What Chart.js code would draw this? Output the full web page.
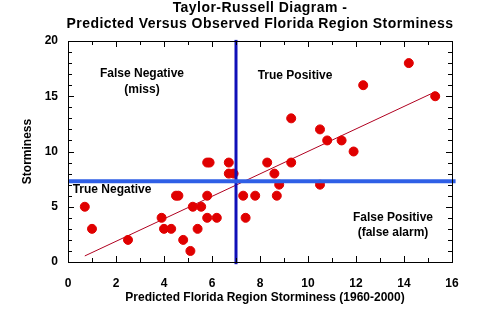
<!DOCTYPE html>
<html>
<head>
<meta charset="utf-8">
<script src="https://cdn.jsdelivr.net/npm/chart.js@4.4.1/dist/chart.umd.min.js"></script>
<style>
  html, body { margin: 0; padding: 0; background: #fff; }
  #wrap { width: 493px; height: 325px; }
</style>
</head>
<body>
<div id="wrap"><canvas id="grafico" width="493" height="325"></canvas></div>
<script>
// Valores
const previsto = [0.7, 1.0, 2.5, 3.9, 4.0, 4.3, 4.5, 4.6, 4.8, 5.1, 5.2, 5.55, 5.4, 5.8, 5.8, 6.2, 5.8, 5.9, 6.7, 6.7, 6.9, 7.3, 7.4, 7.8, 8.3, 8.6, 8.8, 8.7, 9.3, 9.3, 10.5, 10.5, 10.8, 11.4, 11.9, 12.3, 14.2, 15.3];
const observado = [5, 3, 2, 4, 3, 3, 6, 6, 2, 1, 5, 5, 3, 6, 4, 4, 9, 9, 9, 8, 8, 6, 4, 6, 9, 8, 7, 6, 13, 9, 12, 7, 11, 11, 10, 16, 18, 15];
const regressao = [[0.7, 0.55], [15.3, 15.4]];
const limiarPrevisto = 7.0;
const limiarObservado = 7.3;
const ticksX = [0, 2, 4, 6, 8, 10, 12, 14, 16];
const ticksY = [0, 5, 10, 15, 20];

const fonte = '"Liberation Sans", Arial, sans-serif';

const pontos = previsto.map((x, i) => ({ x: x, y: observado[i] }));

// Título, rótulos dos quadrantes, moldura e marcas internas
const extras = {
  id: "extras",
  afterDraw(chart) {
    const ctx = chart.ctx;
    const a = chart.chartArea;
    const sx = chart.scales.x;
    const sy = chart.scales.y;
    ctx.save();
    ctx.fillStyle = "#000";
    ctx.textAlign = "center";
    ctx.textBaseline = "middle";
    const cx = (a.left + a.right) / 2;
    ctx.font = "bold 14px " + fonte;
    ctx.letterSpacing = "0.45px";
    ctx.fillText("Taylor-Russell Diagram -", cx, 8);
    ctx.fillText("Predicted Versus Observed Florida Region Storminess", cx, 24);
    ctx.letterSpacing = "0px";

    ctx.font = "bold 12px " + fonte;
    ctx.fillText("False Negative", 142, 74);
    ctx.fillText("(miss)", 142, 90);
    ctx.fillText("True Positive", 295, 76);
    ctx.fillText("True Negative", 112, 190);
    ctx.fillText("False Positive", 393, 218);
    ctx.fillText("(false alarm)", 393, 233);

    // título do eixo x (um pouco à direita do centro, como no original)
    ctx.fillText("Predicted Florida Region Storminess (1960-2000)", 265, 298);

    // moldura
    ctx.strokeStyle = "#000";
    ctx.lineWidth = 1;
    ctx.strokeRect(a.left + 0.5, a.top + 0.5, a.right - a.left, a.bottom - a.top);

    // marcas internas
    ctx.beginPath();
    for (let v = 0; v <= 16; v++) {
      const px = Math.round(sx.getPixelForValue(v)) + 0.5;
      const len = v % 2 === 0 ? 6 : 4;
      ctx.moveTo(px, a.bottom); ctx.lineTo(px, a.bottom - len);
      ctx.moveTo(px, a.top); ctx.lineTo(px, a.top + len);
    }
    for (let v = 0; v <= 20; v++) {
      const py = Math.round(sy.getPixelForValue(v)) + 0.5;
      const len = v % 5 === 0 ? 6 : 4;
      ctx.moveTo(a.left, py); ctx.lineTo(a.left + len, py);
      ctx.moveTo(a.right, py); ctx.lineTo(a.right - len, py);
    }
    ctx.stroke();
    ctx.restore();
  }
};

const ctx = document.getElementById("grafico").getContext("2d");
new Chart(ctx, {
  type: "scatter",
  data: {
    datasets: [
      {
        data: [{ x: 0, y: limiarObservado }, { x: 16.15, y: limiarObservado }],
        showLine: true,
        borderColor: "#2f5fe6",
        borderWidth: 4,
        pointRadius: 0,
        clip: false,
        order: 1
      },
      {
        data: [{ x: limiarPrevisto, y: -0.2 }, { x: limiarPrevisto, y: 20.1 }],
        showLine: true,
        borderColor: "#1010b8",
        borderWidth: 3,
        pointRadius: 0,
        clip: false,
        order: 1
      },
      {
        data: pontos,
        backgroundColor: "#e00000",
        borderColor: "#e00000",
        borderWidth: 1,
        pointRadius: 4.5,
        order: 2
      },
      {
        data: regressao.map(p => ({ x: p[0], y: p[1] })),
        showLine: true,
        borderColor: "#b00020",
        borderWidth: 1,
        pointRadius: 0,
        order: 3
      }
    ]
  },
  options: {
    responsive: false,
    animation: false,
    layout: { padding: { left: 0, right: 41, top: 41, bottom: 0 } },
    plugins: {
      legend: { display: false },
      tooltip: { enabled: false }
    },
    scales: {
      x: {
        type: "linear",
        min: 0,
        max: 16,
        afterBuildTicks: s => { s.ticks = ticksX.map(v => ({ value: v })); },
        afterFit: s => { s.height = 63; },
        grid: { display: false, drawTicks: false },
        border: { display: false },
        ticks: { color: "#000", padding: 14, font: { family: fonte, size: 12, weight: "bold" } }
      },
      y: {
        type: "linear",
        min: 0,
        max: 20,
        afterBuildTicks: s => { s.ticks = ticksY.map(v => ({ value: v })); },
        afterFit: s => { s.width = 68; },
        grid: { display: false, drawTicks: false },
        border: { display: false },
        ticks: { color: "#000", padding: 10, font: { family: fonte, size: 12, weight: "bold" } },
        title: {
          display: true,
          text: "Storminess",
          color: "#000",
          font: { family: fonte, size: 12, weight: "bold" },
          padding: { top: 20, bottom: 0 }
        }
      }
    }
  },
  plugins: [extras]
});
</script>
</body>
</html>
